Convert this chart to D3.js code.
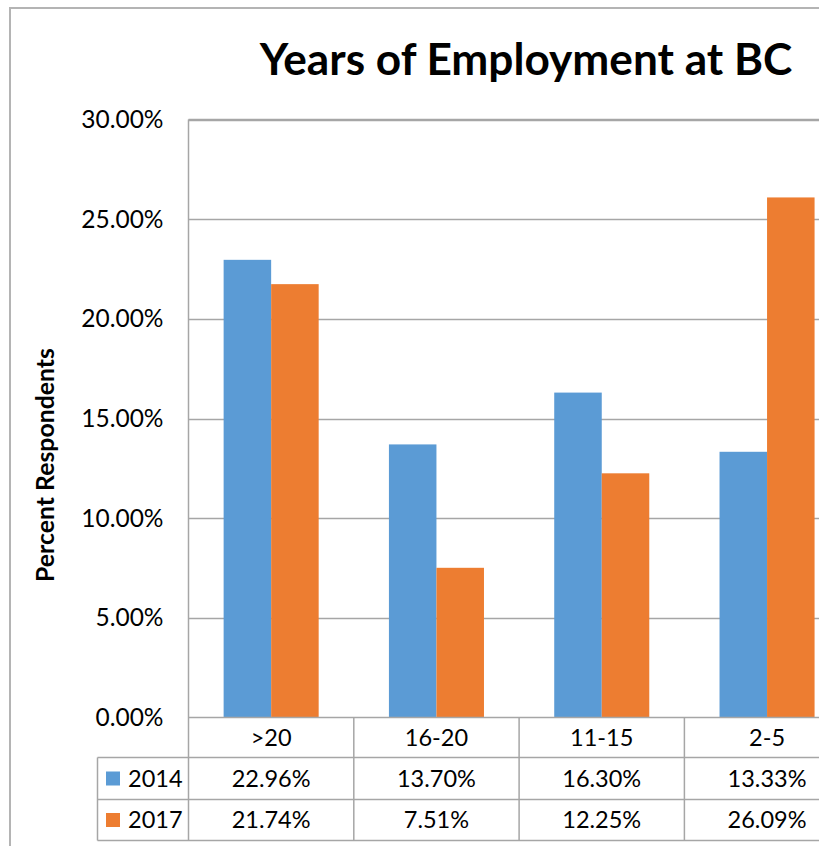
<!DOCTYPE html>
<html><head><meta charset="utf-8">
<script src="https://cdn.jsdelivr.net/npm/d3@7"></script>
<style>
html,body{margin:0;padding:0;background:#fff;}
svg{display:block;font-family:Lato,"Open Sans",sans-serif;}
</style></head>
<body><svg id="c" width="819" height="846"></svg>
<script>
const title = "Years of Employment at BC";
const yTitle = "Percent Respondents";
const categories = [">20", "16-20", "11-15", "2-5"];
const seriesNames = ["2014", "2017"];
const values2014 = [22.96, 13.70, 16.30, 13.33];
const values2017 = [21.74, 7.51, 12.25, 26.09];
const yTicks = [0, 5, 10, 15, 20, 25, 30];
const colors = ["#5b9bd5", "#ed7d31"];
const seriesValues = [values2014, values2017];

(function () {
const svg = d3.select("#c");
const grid = "#a6a6a6";
const pLeft = 188.5, pTop = 119.5, pBottom = 717.5;
const bandW = 165.3;
const pRight = pLeft + bandW * categories.length;
const rowY = [717.5, 757.5, 799.5, 840.5];
const tableLeft = 97.5;
const fTick = 24.5, fTable = 23.5;

// outer chart border
svg.append("rect").attr("x", 10).attr("y", 8).attr("width", 900).attr("height", 900)
  .attr("fill", "none").attr("stroke", "#b4b4b4").attr("stroke-width", 2);

const x = d3.scaleBand().domain(categories).range([pLeft, pRight]).paddingInner(0.425).paddingOuter(0.2125);
const xs = d3.scaleBand().domain(seriesNames).range([0, x.bandwidth()]);
const y = d3.scaleLinear().domain([0, 30]).range([pBottom, pTop]);

// gridlines
svg.append("g").selectAll("line").data(yTicks.filter(t => t > 0)).join("line")
  .attr("x1", pLeft).attr("x2", pRight)
  .attr("y1", d => Math.round(y(d)) + 0.5).attr("y2", d => Math.round(y(d)) + 0.5)
  .attr("stroke", grid).attr("stroke-width", 1.5);

// y axis labels
const yAxis = d3.axisLeft(y).tickValues(yTicks).tickFormat(d => d3.format(".2f")(d) + "%").tickSize(0).tickPadding(25);
const ya = svg.append("g").attr("transform", `translate(${pLeft},0)`).call(yAxis);
ya.select(".domain").remove();
ya.selectAll("text").attr("font-size", fTick).attr("fill", "#000").attr("font-family", "Lato,sans-serif");

// bars
const g = svg.append("g");
seriesNames.forEach((s, i) => {
  g.selectAll(".b" + i).data(categories).join("rect")
    .attr("x", c => x(c) + xs(s))
    .attr("width", xs.bandwidth())
    .attr("y", (c, j) => y(seriesValues[i][j]))
    .attr("height", (c, j) => y(0) - y(seriesValues[i][j]))
    .attr("fill", colors[i]);
});

// table lines
const L = svg.append("g").attr("stroke", grid).attr("stroke-width", 1.5);
L.append("line").attr("x1", pLeft).attr("x2", pRight).attr("y1", rowY[0]).attr("y2", rowY[0]);
[1, 2, 3].forEach(k => L.append("line").attr("x1", tableLeft).attr("x2", pRight).attr("y1", rowY[k]).attr("y2", rowY[k]));
L.append("line").attr("x1", pLeft).attr("x2", pLeft).attr("y1", pTop).attr("y2", rowY[3]);
L.append("line").attr("x1", pLeft).attr("x2", pRight).attr("y1", pTop).attr("y2", pTop);
L.append("line").attr("x1", tableLeft).attr("x2", tableLeft).attr("y1", rowY[1]).attr("y2", rowY[3]);
categories.forEach((c, j) => {
  const xr = pLeft + bandW * (j + 1);
  L.append("line").attr("x1", xr).attr("x2", xr).attr("y1", rowY[0]).attr("y2", rowY[3]);
});

// table text
const T = svg.append("g").attr("font-size", fTable).attr("fill", "#000").attr("text-anchor", "middle");
categories.forEach((c, j) => {
  const cx = pLeft + bandW * (j + 0.5);
  T.append("text").attr("x", cx).attr("y", (rowY[0] + rowY[1]) / 2).attr("dy", "0.36em").text(c);
  seriesNames.forEach((s, i) => {
    T.append("text").attr("x", cx).attr("y", (rowY[i + 1] + rowY[i + 2]) / 2).attr("dy", "0.36em")
      .text(d3.format(".2f")(seriesValues[i][j]) + "%");
  });
});
seriesNames.forEach((s, i) => {
  const cy = (rowY[i + 1] + rowY[i + 2]) / 2;
  svg.append("rect").attr("x", 106).attr("y", cy - 7).attr("width", 14).attr("height", 14).attr("fill", colors[i]);
  svg.append("text").attr("x", 128).attr("y", cy).attr("dy", "0.36em").attr("font-size", fTable).text(s);
});

// title
const tt = svg.append("text").attr("x", 526).attr("y", 75).attr("text-anchor", "middle")
  .attr("font-weight", "bold").attr("font-size", 40).text(title);
const tw = tt.node().getComputedTextLength();
tt.attr("font-size", 40 * 533 / tw);

// y title
const yt = svg.append("text").attr("transform", "translate(54,465) rotate(-90)").attr("text-anchor", "middle")
  .attr("font-weight", "bold").attr("font-size", 20).text(yTitle);
const yw = yt.node().getComputedTextLength();
yt.attr("font-size", 20 * 234 / yw);
})();
</script></body></html>
